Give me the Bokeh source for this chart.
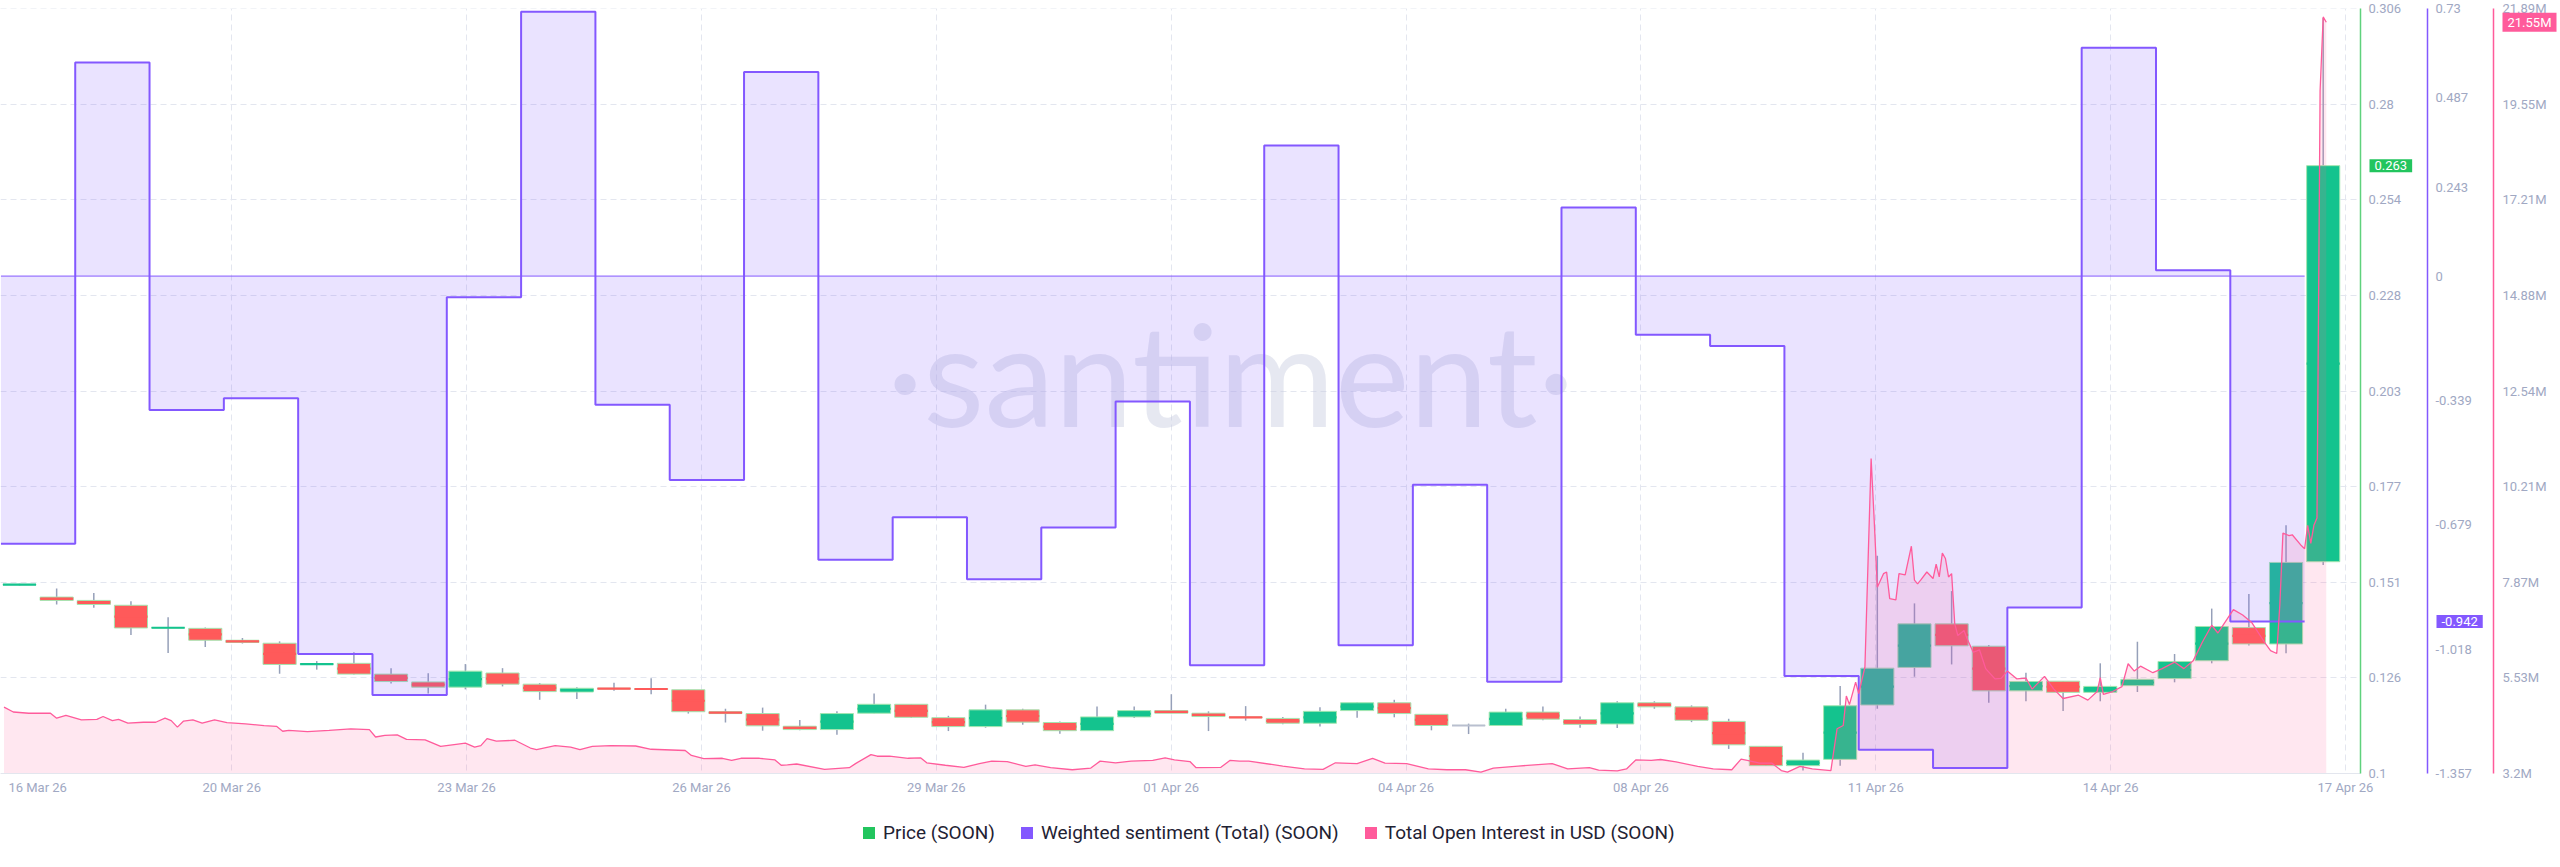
import pandas as pd
from bokeh.plotting import figure
from bokeh.layouts import column
from bokeh.models import (Range1d, LinearAxis, FixedTicker, NumeralTickFormatter, BoxAnnotation,
                          CustomJSTickFormatter, Label, Legend, LegendItem, ColumnDataSource)
from bokeh.embed import file_html
from bokeh.resources import INLINE

# ---------------- data ----------------
CANDLE_FIRST_CENTRE = "2026-03-17 06:00"   # 12h candles
OPEN = [0.1507, 0.1474, 0.1465, 0.1452, 0.1391, 0.1390, 0.1358, 0.1350, 0.1293, 0.1296,
        0.1267, 0.1246, 0.1232, 0.1270, 0.1240, 0.1219, 0.1229, 0.1228, 0.1225, 0.1166,
        0.1161, 0.1127, 0.1118, 0.1162, 0.1186, 0.1150, 0.1126, 0.1171, 0.1137, 0.1115,
        0.1152, 0.1169, 0.1162, 0.1152, 0.1148, 0.1135, 0.1169, 0.1190, 0.1159, 0.1129,
        0.1129, 0.1165, 0.1145, 0.1133, 0.1190, 0.1179, 0.1140, 0.1073, 0.1021, 0.1038,
        0.1184, 0.1285, 0.1402, 0.1342, 0.1222, 0.1248, 0.1218, 0.1236, 0.1255, 0.1303,
        0.1392, 0.1348, 0.1569]
HIGH = [0.1510, 0.1497, 0.1485, 0.1463, 0.1420, 0.1392, 0.1364, 0.1355, 0.1302, 0.1326,
        0.1283, 0.1269, 0.1294, 0.1283, 0.1243, 0.1232, 0.1244, 0.1256, 0.1225, 0.1174,
        0.1177, 0.1144, 0.1167, 0.1215, 0.1186, 0.1155, 0.1185, 0.1174, 0.1140, 0.1180,
        0.1180, 0.1213, 0.1167, 0.1181, 0.1152, 0.1178, 0.1191, 0.1198, 0.1159, 0.1134,
        0.1174, 0.1180, 0.1153, 0.1194, 0.1194, 0.1183, 0.1147, 0.1073, 0.1056, 0.1235,
        0.1585, 0.1457, 0.1490, 0.1345, 0.1271, 0.1248, 0.1296, 0.1354, 0.1321, 0.1443,
        0.1482, 0.1667, 0.3030]
LOW = [0.1505, 0.1454, 0.1445, 0.1372, 0.1324, 0.1340, 0.1349, 0.1268, 0.1279, 0.1266,
       0.1242, 0.1215, 0.1226, 0.1234, 0.1198, 0.1200, 0.1222, 0.1213, 0.1161, 0.1137,
       0.1115, 0.1116, 0.1104, 0.1162, 0.1149, 0.1114, 0.1123, 0.1131, 0.1107, 0.1115,
       0.1149, 0.1162, 0.1114, 0.1142, 0.1132, 0.1126, 0.1150, 0.1151, 0.1116, 0.1106,
       0.1128, 0.1143, 0.1123, 0.1122, 0.1174, 0.1138, 0.1066, 0.1020, 0.1008, 0.1021,
       0.1174, 0.1260, 0.1293, 0.1190, 0.1194, 0.1168, 0.1194, 0.1219, 0.1245, 0.1296,
       0.1344, 0.1323, 0.1560]
CLOSE = [0.1508, 0.1465, 0.1454, 0.1391, 0.1392, 0.1358, 0.1352, 0.1293, 0.1295, 0.1267,
         0.1247, 0.1232, 0.1275, 0.1240, 0.1220, 0.1229, 0.1227, 0.1226, 0.1166, 0.1161,
         0.1128, 0.1118, 0.1161, 0.1186, 0.1151, 0.1126, 0.1171, 0.1138, 0.1115, 0.1152,
         0.1169, 0.1162, 0.1153, 0.1150, 0.1135, 0.1167, 0.1190, 0.1161, 0.1129, 0.1129,
         0.1165, 0.1146, 0.1132, 0.1190, 0.1179, 0.1143, 0.1077, 0.1021, 0.1036, 0.1182,
         0.1283, 0.1402, 0.1343, 0.1222, 0.1247, 0.1218, 0.1234, 0.1253, 0.1301, 0.1395,
         0.1348, 0.1567, 0.2633]

SENT_FIRST_DAY = "2026-03-17"   # daily weighted sentiment
SENTIMENT = [-0.730, 0.583, -0.365, -0.333, -1.031, -1.143, -0.058, 0.721, -0.351, -0.556,
             0.557, -0.774, -0.658, -0.827, -0.686, -0.342, -1.062, 0.356, -1.007, -0.569,
             -1.107, 0.187, -0.160, -0.191, -1.091, -1.292, -1.342, -0.904, 0.623, 0.016,
             -0.942]

OI_ORIGIN = "2026-03-17 00:00"   # open interest: hours after origin, value in millions USD
OI_HOURS = [1, 4, 9, 16, 18, 21, 26, 31, 33, 36,
            38, 41, 46, 50, 53, 55, 57, 59, 62, 65,
            69, 73, 79, 85, 89, 91, 93, 99, 106, 113,
            119, 121, 124, 128, 131, 137, 142, 147, 150, 153,
            155, 157, 160, 166, 171, 173, 179, 184, 187, 191,
            197, 205, 210, 221, 223, 227, 233, 236, 239, 245,
            250, 252, 254, 257, 266, 274, 276, 281, 283, 287,
            293, 297, 299, 305, 311, 316, 320, 325, 331, 334,
            339, 346, 352, 355, 360, 365, 372, 376, 379, 384,
            386, 394, 397, 400, 403, 414, 421, 427, 431, 438,
            443, 447, 454, 461, 467, 473, 478, 482, 490, 501,
            506, 513, 516, 522, 525, 528, 533, 536, 541, 548,
            553, 559, 562, 564, 568, 572, 575, 577, 581, 585,
            591, 593, 595, 596, 597, 599, 600, 602, 604, 605,
            606, 608, 609, 610, 612, 613, 615, 617, 618, 619,
            620, 622, 624, 625, 626, 627, 628, 629, 630, 631,
            632, 634, 635, 637, 639, 641, 644, 646, 648, 651,
            654, 656, 660, 663, 666, 671, 674, 677, 678, 679,
            682, 685, 687, 689, 691, 695, 698, 702, 705, 708,
            711, 714, 716, 718, 721, 724, 727, 731, 733, 735,
            736, 737, 739, 740, 743, 744, 745, 746, 747, 748,
            749, 750, 751]
OI_MILLIONS = [4.82, 4.70, 4.67, 4.67, 4.55, 4.62, 4.51, 4.52, 4.59, 4.49,
               4.52, 4.43, 4.45, 4.45, 4.55, 4.49, 4.33, 4.48, 4.51, 4.43,
               4.51, 4.44, 4.41, 4.37, 4.35, 4.23, 4.25, 4.22, 4.25, 4.29,
               4.27, 4.09, 4.13, 4.14, 4.03, 4.02, 3.86, 3.91, 3.94, 3.84,
               3.88, 4.05, 3.99, 4.01, 3.82, 3.78, 3.88, 3.84, 3.78, 3.86,
               3.88, 3.87, 3.79, 3.76, 3.64, 3.56, 3.57, 3.52, 3.57, 3.57,
               3.53, 3.40, 3.41, 3.43, 3.30, 3.34, 3.44, 3.66, 3.62, 3.62,
               3.57, 3.58, 3.46, 3.40, 3.35, 3.44, 3.50, 3.49, 3.37, 3.41,
               3.34, 3.29, 3.33, 3.50, 3.46, 3.50, 3.52, 3.58, 3.53, 3.49,
               3.34, 3.35, 3.52, 3.50, 3.50, 3.38, 3.31, 3.30, 3.46, 3.44,
               3.57, 3.45, 3.44, 3.31, 3.29, 3.29, 3.23, 3.33, 3.38, 3.44,
               3.31, 3.34, 3.28, 3.26, 3.31, 3.53, 3.52, 3.54, 3.48, 3.37,
               3.31, 3.29, 3.55, 3.52, 3.45, 3.45, 3.27, 3.23, 3.37, 3.31,
               3.27, 4.29, 4.37, 5.09, 4.88, 5.43, 5.15, 5.80, 10.89, 9.38,
               7.75, 8.08, 8.12, 7.47, 7.44, 8.08, 8.05, 8.75, 7.92, 7.83,
               7.92, 8.12, 7.96, 8.31, 8.00, 8.58, 8.45, 8.00, 8.08, 6.86,
               6.57, 6.69, 6.49, 6.16, 6.22, 5.76, 5.51, 5.52, 5.70, 5.51,
               5.53, 5.26, 5.57, 5.26, 5.03, 5.11, 4.99, 5.20, 5.54, 5.13,
               5.20, 5.32, 5.88, 5.70, 5.82, 5.66, 5.76, 5.92, 5.76, 5.95,
               6.41, 6.82, 6.63, 6.86, 7.20, 7.07, 6.88, 6.41, 6.20, 6.13,
               7.32, 9.07, 9.01, 9.03, 8.76, 8.69, 9.26, 8.82, 9.26, 9.44,
               19.87, 21.68, 21.55]

X_START = "2026-03-16 23:52"
X_END = "2026-04-17 18:03"
X_TICKS = ["2026-03-20 02:33", "2026-03-23 06:24", "2026-03-26 10:15", "2026-03-29 14:06",
           "2026-04-01 17:57", "2026-04-04 21:48", "2026-04-08 01:39", "2026-04-11 05:30",
           "2026-04-14 09:21", "2026-04-17 13:12"]
PRICE_TICKS = [0.1, 0.12569, 0.15138, 0.17707, 0.20276, 0.22845, 0.25414, 0.27983, 0.30552]
SENT_TICKS = [0.73, 0.487, 0.243, 0, -0.339, -0.679, -1.018, -1.357]
OI_TICKS = [3.198, 5.534, 7.87, 10.206, 12.542, 14.878, 17.214, 19.55, 21.886]

LEGEND_LABELS = ["Price (SOON)", "Weighted sentiment (Total) (SOON)",
                 "Total Open Interest in USD (SOON)"]

# ---------------- colours / layout ----------------
UP, DOWN, FLAT = "#14c38e", "#ff5a5a", "#b9bfcf"
GREEN, PURPLE, PINK = "#22c55e", "#8358ff", "#ff5b9b"
TICK_COL = "#a0a8c3"
FONT = "Roboto"
HOUR_MS = 3600000
W, H_MAIN, H_LEG = 2560, 800, 67
PLOT_W = 2360                      # data area width in px; axes live to its right
AXIS_PX = (2360, 2427, 2493)       # x positions of the three right axes
PLOT_TOP, PLOT_BOTTOM = 8, 773     # data area top / bottom in px


def ms(s):
    return pd.Timestamp(s).value / 1e6


x0, x1 = ms(X_START), ms(X_END)
span = x1 - x0


def px_to_x(px):
    return x0 + span * px / PLOT_W


def padded(lo, hi):
    """range whose [lo, hi] maps onto the data area rows PLOT_BOTTOM..PLOT_TOP"""
    per_px = (hi - lo) / (PLOT_BOTTOM - PLOT_TOP)
    return Range1d(lo - per_px * (H_MAIN - PLOT_BOTTOM), hi + per_px * PLOT_TOP)


# ---------------- derived sources ----------------
t_c = pd.date_range(CANDLE_FIRST_CENTRE, periods=len(OPEN), freq="12h")
colors = [UP if c > o else (DOWN if c < o else FLAT) for o, c in zip(OPEN, CLOSE)]
half = pd.Timedelta(hours=5.35)
csrc = ColumnDataSource(dict(
    t=t_c, t0=t_c - half, t1=t_c + half,
    o=OPEN, h=HIGH, l=LOW, c=CLOSE,
    top=[max(o, c) for o, c in zip(OPEN, CLOSE)],
    bot=[min(o, c) for o, c in zip(OPEN, CLOSE)],
    mid=[(o + c) / 2 for o, c in zip(OPEN, CLOSE)],
    col=colors))

edges = pd.date_range(SENT_FIRST_DAY, periods=len(SENTIMENT) + 1, freq="D")
sx, sy = [], []
for i, v in enumerate(SENTIMENT):
    sx += [edges[i], edges[i + 1]]
    sy += [v, v]

t_oi = pd.Timestamp(OI_ORIGIN) + pd.to_timedelta(OI_HOURS, unit="h")

# ---------------- main figure ----------------
p = figure(width=W, height=H_MAIN, x_axis_type="datetime", y_axis_location="right",
           x_range=Range1d(x0, px_to_x(W)),
           y_range=padded(PRICE_TICKS[0], PRICE_TICKS[-1]),
           output_backend="svg", toolbar_location=None, min_border=0)
p.outline_line_color = None
p.background_fill_color = "white"
p.border_fill_color = "white"
p.extra_y_ranges = {"sent": padded(SENT_TICKS[-1], SENT_TICKS[0]),
                    "oi": padded(OI_TICKS[0], OI_TICKS[-1])}

# white covers outside the data area (hide grid lines there)
p.add_layout(BoxAnnotation(left=x1, fill_color="white", fill_alpha=1.0, line_alpha=0, level="underlay"))
p.add_layout(BoxAnnotation(top=PRICE_TICKS[0], fill_color="white", fill_alpha=1.0, line_alpha=0, level="underlay"))
p.add_layout(BoxAnnotation(bottom=PRICE_TICKS[-1], fill_color="white", fill_alpha=1.0, line_alpha=0, level="underlay"))

# watermark
p.add_layout(Label(x=1230, y=401 + (H_MAIN - PLOT_BOTTOM), x_units="screen", y_units="screen",
                   text="·santiment·", text_align="center", text_baseline="alphabetic",
                   text_font="Lato", text_font_size="141px", text_color="#c8cde0",
                   text_alpha=0.45, level="underlay"))

# candles
p.segment(x0="t", y0="l", x1="t", y1="h", source=csrc, line_color="#96a0b9", line_width=1.5)
p.vbar(x="t", width=10.7 * HOUR_MS, top="top", bottom="bot", source=csrc,
       fill_color="col", line_color="#a3e6b0", line_width=1)
p.segment(x0="t0", y0="mid", x1="t1", y1="mid", source=csrc, line_color="col", line_width=2.2)

# sentiment area
p.varea(x=sx, y1=0, y2=sy, y_range_name="sent", fill_color=PURPLE, fill_alpha=0.17)
# open interest area (down to the axis minimum)
p.varea(x=t_oi, y1=OI_TICKS[0], y2=OI_MILLIONS, y_range_name="oi", fill_color=PINK, fill_alpha=0.15)
# lines
p.line(x=[edges[0], edges[-1]], y=[0, 0], y_range_name="sent", line_color=PURPLE, line_width=1)
p.line(x=sx, y=sy, y_range_name="sent", line_color=PURPLE, line_width=2)
p.line(x=t_oi, y=OI_MILLIONS, y_range_name="oi", line_color=PINK, line_width=1.3)

# ---------------- axes ----------------
fmt = "%d %b %y"
x_axis_ticks = [x0 + 12 * HOUR_MS] + [ms(s) for s in X_TICKS]
x_axis_labels = [pd.Timestamp(X_START).strftime(fmt)] + [pd.Timestamp(s).strftime(fmt) for s in X_TICKS]
p.xaxis.ticker = FixedTicker(ticks=x_axis_ticks)
p.xaxis.formatter = CustomJSTickFormatter(
    args=dict(vals=x_axis_ticks, labels=x_axis_labels),
    code="for (let k = 0; k < vals.length; k++) { if (Math.abs(vals[k] - tick) < 60000) return labels[k]; } return '';")
p.xaxis.bounds = (x0, x1)
p.xaxis.fixed_location = PRICE_TICKS[0]
p.xgrid.ticker = FixedTicker(ticks=[ms(s) for s in X_TICKS])


def style_axis(ax, line_color):
    ax.axis_line_color = line_color
    ax.axis_line_width = 1.5
    ax.major_tick_line_color = None
    ax.minor_tick_line_color = None
    ax.major_tick_out = 0
    ax.major_tick_in = 0
    ax.major_label_text_color = TICK_COL
    ax.major_label_text_font = FONT
    ax.major_label_text_font_size = "13px"


style_axis(p.xaxis[0], "#e3e6ee")
p.xaxis.axis_line_width = 1
p.xaxis.major_label_standoff = 6

pt = FixedTicker(ticks=PRICE_TICKS)
ax_p = p.yaxis[0]
ax_p.ticker = pt
ax_p.formatter = NumeralTickFormatter(format="0.[000]")
style_axis(ax_p, "#5fd27d")
ax_p.major_label_standoff = 8
ax_p.fixed_location = px_to_x(AXIS_PX[0])
ax_p.bounds = (PRICE_TICKS[0], PRICE_TICKS[-1])
p.ygrid.ticker = pt

ax_s = LinearAxis(y_range_name="sent", ticker=FixedTicker(ticks=SENT_TICKS),
                  formatter=NumeralTickFormatter(format="0.[000]"),
                  fixed_location=px_to_x(AXIS_PX[1]), bounds=(SENT_TICKS[-1], SENT_TICKS[0]))
style_axis(ax_s, PURPLE)
ax_s.major_label_standoff = 8
p.add_layout(ax_s, "right")

ax_o = LinearAxis(y_range_name="oi", ticker=FixedTicker(ticks=OI_TICKS),
                  formatter=CustomJSTickFormatter(code="return (Math.round(tick*100)/100).toString() + 'M'"),
                  fixed_location=px_to_x(AXIS_PX[2]), bounds=(OI_TICKS[0], OI_TICKS[-1]))
style_axis(ax_o, PINK)
ax_o.major_label_standoff = 9
p.add_layout(ax_o, "right")

for g in (p.xgrid[0], p.ygrid[0]):
    g.grid_line_color = "#e3e6ef"
    g.grid_line_dash = "6 4"
    g.grid_line_width = 1


# last-value badges
def badge(px, y, rng, text, col):
    kw = dict(x=px, y=y, x_units="screen", text=text, text_color="white",
              text_font=FONT, text_font_size="13px", text_baseline="middle",
              text_align="left", background_fill_color=col, padding=(5, 2))
    if rng:
        kw["y_range_name"] = rng
    p.add_layout(Label(**kw))


badge(AXIS_PX[0] + 9, CLOSE[-1], None, f"{CLOSE[-1]:.3f}", GREEN)
badge(AXIS_PX[1] + 9, SENTIMENT[-1], "sent", f"{SENTIMENT[-1]:.3f}", PURPLE)
badge(AXIS_PX[2] + 9, OI_MILLIONS[-1], "oi", f"{OI_MILLIONS[-1]:.2f}M", PINK)

# ---------------- legend strip ----------------
lf = figure(width=W, height=H_LEG, x_range=Range1d(0, 1), y_range=Range1d(0, 1),
            output_backend="svg", toolbar_location=None,
            x_axis_location=None, y_axis_location=None, min_border=0)
lf.outline_line_color = None
lf.background_fill_color = "white"
lf.border_fill_color = "white"
lf.xgrid.visible = False
lf.ygrid.visible = False

# legend swatch proxies (placed outside the strip's visible range)
lsrc = ColumnDataSource(dict(l=[2], r=[3], t=[3], b=[2]))
items = []
for lab, col in zip(LEGEND_LABELS, (GREEN, PURPLE, PINK)):
    r = lf.quad(left="l", right="r", top="t", bottom="b", source=lsrc,
                fill_color=col, line_color=None)
    items.append(LegendItem(label=lab, renderers=[r]))
legend = Legend(items=items, location=(861, 23), orientation="horizontal",
                glyph_width=15, glyph_height=15, label_standoff=7, spacing=24,
                padding=0, margin=0, border_line_alpha=0, background_fill_alpha=0,
                label_text_font=FONT, label_text_font_size="19px",
                label_text_color="#1f2233")
lf.add_layout(legend)

open("out.html", "w").write(file_html(column(p, lf), INLINE))
